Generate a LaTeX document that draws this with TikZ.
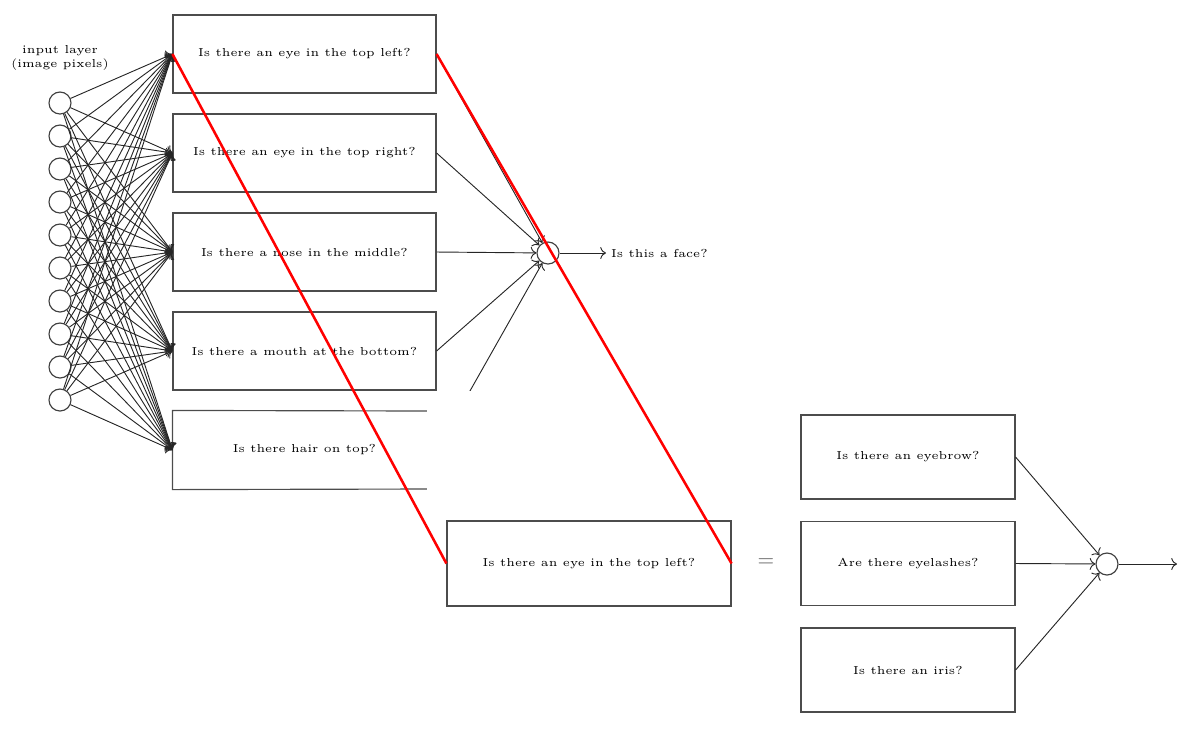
\documentclass[tikz,border=0pt]{standalone}
\usetikzlibrary{arrows.meta}
\def\u{0.433pt}
\begin{document}
\begin{tikzpicture}[x=\u,y=-\u,
  qbox/.style={draw=black!70,line width=0.5pt,minimum width=263*\u,minimum height=78*\u,font=\tiny,inner sep=0pt},
  neuron/.style={circle,draw=black!75,line width=0.5pt,minimum size=22*\u,inner sep=0pt},
  conn/.style={->,black!85,line width=0.4pt},
  redline/.style={red,line width=1.1pt}]
\useasboundingbox (0,0) rectangle (1194,735);
% input layer
\node[font=\tiny,align=center] (lbl) at (60,58) {input layer\\(image pixels)};
\foreach \i in {0,...,9}
  \node[neuron] (n\i) at (60,103+33*\i) {};
% boxes
\node[qbox] (b1) at (304.5,54) {Is there an eye in the top left?};
\node[qbox] (b2) at (304.5,153) {Is there an eye in the top right?};
\node[qbox] (b3) at (304.5,252) {Is there a nose in the middle?};
\node[qbox] (b4) at (304.5,351) {Is there a mouth at the bottom?};
\node[qbox,draw=none] (b5) at (304.5,450) {Is there hair on top?};
\draw[black!70,line width=0.5pt] (427,411) -- (b5.north west) -- (b5.south west) -- (427,489);
\foreach \i in {0,...,9}
  \foreach \b in {b1,b2,b3,b4,b5}
    \draw[conn] (n\i) -- (\b.west);
% output neuron
\node[neuron] (o1) at (548,253) {};
\node[font=\tiny,anchor=west,inner sep=2pt] (face) at (606,253) {Is this a face?};
\foreach \b in {b1,b2,b3,b4,b5}
  \draw[conn] (\b.east) -- (o1);
\draw[conn] (o1) -- (face);
\fill[white] (427.2,390.6) rectangle (500,505);
% lower part
\node[qbox,minimum width=284*\u,minimum height=85*\u] (low) at (589,563.5) {Is there an eye in the top left?};
\node[font=\small,text=black!60] (eq) at (766,563) {$=$};
\node[qbox,minimum width=214*\u,minimum height=84*\u] (r1) at (908,457) {Is there an eyebrow?};
\node[qbox,minimum width=214*\u,minimum height=84*\u] (r2) at (908,563.5) {Are there eyelashes?};
\node[qbox,minimum width=214*\u,minimum height=84*\u] (r3) at (908,670) {Is there an iris?};
\node[neuron] (o2) at (1107,564) {};
\coordinate (end) at (1177,564);
\foreach \b in {r1,r2,r3}
  \draw[conn] (\b.east) -- (o2);
\draw[conn] (o2) -- (end);
% red lines
\draw[redline] (b1.west) -- (low.west);
\draw[redline] (b1.east) -- (low.east);
\end{tikzpicture}
\end{document}
